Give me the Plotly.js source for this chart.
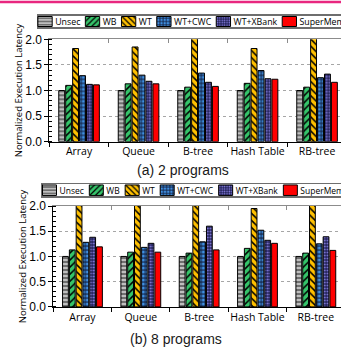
<!DOCTYPE html>
<html><head><meta charset="utf-8">
<script src="https://cdn.plot.ly/plotly-3.0.1.min.js"></script>
<style>html,body{margin:0;padding:0;overflow:hidden;background:#fff}</style>
</head><body><div id="chart" style="width:350px;height:347px"></div>
<script>
const categories = ['Array','Queue','B-tree','Hash Table','RB-tree'];
const seriesNames = ['Unsec','WB','WT','WT+CWC','WT+XBank','SuperMem'];
// (a) 2 programs
const unsec2 = [1.00,1.00,1.00,1.00,1.00];
const wb2 = [1.10,1.13,1.065,1.14,1.065];
const wt2 = [1.82,1.85,2.35,1.82,2.30];
const cwc2 = [1.29,1.30,1.34,1.39,1.25];
const xbank2 = [1.12,1.18,1.16,1.23,1.32];
const supermem2 = [1.11,1.13,1.08,1.22,1.16];
// (b) 8 programs
const unsec8 = [1.00,1.00,1.00,1.00,1.00];
const wb8 = [1.13,1.085,1.066,1.16,1.066];
const wt8 = [2.60,2.50,2.70,1.95,2.50];
const cwc8 = [1.28,1.18,1.29,1.52,1.25];
const xbank8 = [1.38,1.26,1.60,1.32,1.39];
const supermem8 = [1.19,1.085,1.13,1.26,1.12];
const yTickVals = [0,0.5,1,1.5,2];
const yTickText = ['0.0','0.5','1.0','1.5','2.0'];
const yTitle = 'Normalized Execution Latency';
const captions = ['(a) 2 programs','(b) 8 programs'];

const W = 350, H = 347;
const px = v => v / W;
const py = v => (H - v) / H;

const styles = [
  {color:'#7a7a7a', pattern:{shape:'-', fgcolor:'#d4d4d4', bgcolor:'#6f6f6f', size:4, solidity:0.4}},
  {color:'#35c46a', pattern:{shape:'/', fgcolor:'#000000', bgcolor:'#35c46a', size:5, solidity:0.3}},
  {color:'#ffc000', pattern:{shape:'\\', fgcolor:'#000000', bgcolor:'#ffc000', size:5, solidity:0.3}},
  {color:'#2b6cb0', pattern:{shape:'.', fgcolor:'#3f8fe0', bgcolor:'#1a3560', size:4, solidity:0.45}},
  {color:'#2a2a6e', pattern:{shape:'.', fgcolor:'#8d84e8', bgcolor:'#22225a', size:3, solidity:0.3}},
  {color:'#ff0000', pattern:{shape:''}}
];
const seriesTop = [unsec2, wb2, wt2, cwc2, xbank2, supermem2];
const seriesBot = [unsec8, wb8, wt8, cwc8, xbank8, supermem8];

const traces = [];
seriesTop.forEach((vals, i) => traces.push({
  type:'bar', x:categories, y:vals, name:seriesNames[i], xaxis:'x', yaxis:'y', legend:'legend',
  marker:{color:styles[i].color, pattern:styles[i].pattern, line:{color:'#000', width:1}}, hoverinfo:'skip'
}));
seriesBot.forEach((vals, i) => traces.push({
  type:'bar', x:categories, y:vals, name:seriesNames[i], xaxis:'x2', yaxis:'y2', legend:'legend2',
  marker:{color:styles[i].color, pattern:styles[i].pattern, line:{color:'#000', width:1}}, hoverinfo:'skip'
}));
traces.push({type:'scatter', mode:'none', x:categories, y:unsec2, xaxis:'x3', yaxis:'y', showlegend:false, hoverinfo:'skip'});
traces.push({type:'scatter', mode:'none', x:categories, y:unsec8, xaxis:'x4', yaxis:'y2', showlegend:false, hoverinfo:'skip'});

const tickFont = {family:'Liberation Sans, Arial, sans-serif', size:12, color:'#000'};
const catFont = {family:'Open Sans, sans-serif', size:10.5, color:'#000'};
function xAxis(dom, anchor){
  return {domain:dom, anchor:anchor, type:'category', categoryorder:'array', categoryarray:categories,
    range:[-0.5,4.5], tickson:'boundaries', ticks:'outside', ticklen:4, tickcolor:'#000', tickangle:0,
    showline:true, linecolor:'#000', linewidth:1, showgrid:false, tickfont:catFont, zeroline:false, fixedrange:true};
}
function xTop(over, anchor){
  return {overlaying:over, anchor:anchor, side:'top', type:'category', categoryorder:'array', categoryarray:categories,
    range:[-0.5,4.5], tickson:'boundaries', ticks:'inside', ticklen:4, tickcolor:'#8c8c8c',
    showline:true, linecolor:'#8c8c8c', linewidth:1.5, showgrid:false, showticklabels:false, zeroline:false};
}
function yAxis(dom, anchor, standoff){
  return {domain:dom, anchor:anchor, range:[0,2], tickmode:'array', tickvals:yTickVals, ticktext:yTickText,
    ticks:'outside', ticklen:4, tickcolor:'#000', showline:true, linecolor:'#000', linewidth:1,
    showgrid:true, gridcolor:'#a6a6a6', griddash:'dot', gridwidth:1, zeroline:false, tickfont:tickFont,
    minor:{tickmode:'linear', tick0:0, dtick:0.1, ticks:'inside', ticklen:3, tickcolor:'#000', showgrid:false},
    title:{text:yTitle, font:{family:'Open Sans, sans-serif', size:9.5, color:'#000'}, standoff:standoff},
    automargin:false, fixedrange:true};
}
const legendBase = {orientation:'h', xanchor:'left', yanchor:'top', bgcolor:'#fff', bordercolor:'#6e6e6e', borderwidth:1.5,
  font:{family:'Open Sans, sans-serif', size:8.8, color:'#000'}, traceorder:'normal'};

const layout = {
  width:W, height:H, margin:{l:0,r:0,t:0,b:0}, paper_bgcolor:'#fff', plot_bgcolor:'rgba(0,0,0,0)',
  barmode:'group', bargap:0.3, bargroupgap:0.15, showlegend:true,
  xaxis:xAxis([px(49.3), px(346.8)], 'y'),
  yaxis:yAxis([py(141.7), py(39.3)], 'x', 0),
  xaxis2:xAxis([px(53.3), px(345)], 'y2'),
  yaxis2:yAxis([py(306.9), py(206)], 'x2', 0),
  xaxis3:xTop('x','y'),
  xaxis4:xTop('x2','y2'),
  legend:Object.assign({}, legendBase, {x:px(36.7), y:py(14)}),
  legend2:Object.assign({}, legendBase, {x:px(41), y:py(183), font:{family:'Open Sans, sans-serif', size:8.5, color:'#000'}}),
  annotations:[
    {text:captions[0], xref:'paper', yref:'paper', x:px(183), y:py(170), xanchor:'center', yanchor:'middle', showarrow:false,
     font:{family:'Liberation Sans, Arial, sans-serif', size:14, color:'#1a1a1a'}},
    {text:captions[1], xref:'paper', yref:'paper', x:px(176), y:py(339), xanchor:'center', yanchor:'middle', showarrow:false,
     font:{family:'Liberation Sans, Arial, sans-serif', size:14, color:'#1a1a1a'}}
  ],
  shapes:[{type:'line', xref:'paper', yref:'paper', x0:0, x1:1, y0:py(2), y1:py(2), line:{color:'#e8277f', width:2.5}}]
};

// tighten each legend into one compact line like the reference
function repackLegend(lg, cfg) {
  lg.setAttribute('transform', 'translate(' + cfg.left + ',' + cfg.top + ')');
  lg.querySelectorAll('g.scrollbox').forEach(sb => { sb.removeAttribute('clip-path'); sb.setAttribute('transform', 'translate(0,0)'); });
  lg.querySelectorAll('g.groups').forEach(g => g.setAttribute('transform', 'translate(0,0)'));
  lg.querySelectorAll('rect.scrollbar').forEach(r => r.remove());
  const items = Array.from(lg.querySelectorAll('g.traces'));
  let x = cfg.pad;
  const cy = cfg.height / 2;
  items.forEach(it => {
    const txt = it.querySelector('text');
    if (!txt) return;
    it.setAttribute('transform', 'translate(' + x + ',' + cy + ')');
    it.querySelectorAll('g.layers').forEach(l => l.removeAttribute('transform'));
    it.querySelectorAll('g.legendpoints path').forEach(p => {
      p.setAttribute('d', 'M' + cfg.sw + ',' + (cfg.sh/2) + 'H0V' + (-cfg.sh/2) + 'H' + cfg.sw + 'Z');
      p.setAttribute('transform', 'translate(0,0)');
    });
    const tx = cfg.sw + cfg.textGap;
    txt.setAttribute('x', tx);
    txt.querySelectorAll('tspan').forEach(t => t.setAttribute('x', tx));
    const tw = txt.getComputedTextLength();
    x += tx + tw + cfg.itemGap;
  });
  const bg = lg.querySelector('rect.bg');
  if (bg) {
    bg.setAttribute('x', cfg.bw / 2); bg.setAttribute('y', cfg.bw / 2);
    bg.setAttribute('width', x + 40); bg.setAttribute('height', cfg.height - cfg.bw);
  }
}

Plotly.newPlot('chart', traces, layout, {staticPlot:true, displayModeBar:false}).then(gd => {
  const cfgs = [
    {left:36.7, top:14.3, height:14.4, bw:1.5, pad:1.2, sw:14.3, sh:10, textGap:3, itemGap:5},
    {left:41, top:182.7, height:15, bw:1.5, pad:1.5, sw:14, sh:10.5, textGap:3, itemGap:5.5}
  ];
  const legends = Array.from(gd.querySelectorAll('g.infolayer > g')).filter(g => g.querySelector('g.traces') && g.querySelector('rect.bg'));
  legends.forEach((lg, k) => { if (cfgs[k]) repackLegend(lg, cfgs[k]); });
});
</script></body></html>
